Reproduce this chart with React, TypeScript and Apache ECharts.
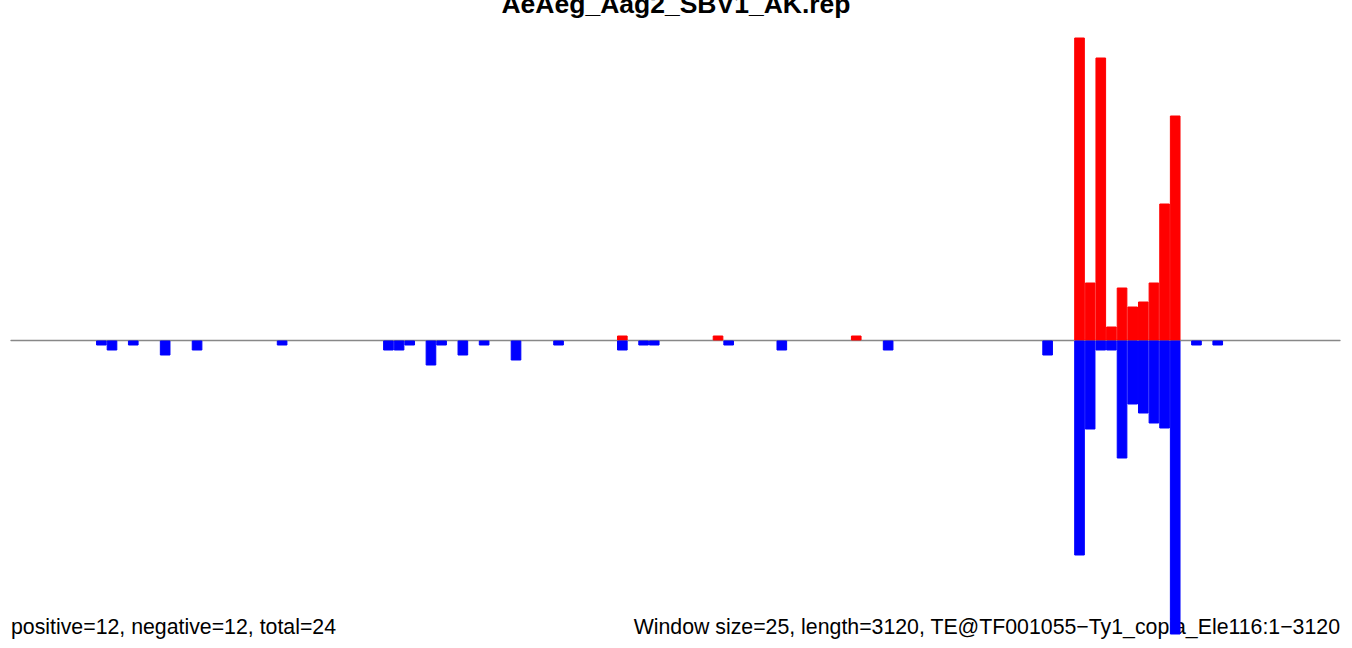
import React, { useEffect, useRef } from "react";
import * as echarts from "echarts";

const TITLE = "AeAeg_Aag2_SBV1_AK.rep";
const LEFT_NOTE = "positive=12, negative=12, total=24";
const RIGHT_NOTE = "Window size=25, length=3120, TE@TF001055\u2212Ty1_copia_Ele116:1\u22123120";

const BIN_COUNT = 125;
const binLabels = Array.from({ length: BIN_COUNT }, (_, i) => String(i * 25 + 1));

const posBins = [57, 66, 79, 100, 101, 102, 103, 104, 105, 106, 107, 108, 109];
const posValues = [1, 1, 1, 60.6, 11.6, 56.6, 2.8, 10.6, 6.8, 7.8, 11.6, 27.4, 45];

const negBins = [8, 9, 11, 14, 17, 25, 35, 36, 37, 39, 40, 42, 44, 47, 51, 57, 59, 60, 67, 72, 82, 97, 100, 101, 102, 103, 104, 105, 106, 107, 108, 109, 111, 113];
const negValues = [1, 2, 1, 3, 2, 1, 2, 2, 1, 5, 1, 3, 1, 4, 1, 2, 1, 1, 1, 2, 2, 3, 43, 17.8, 2, 2, 23.6, 12.8, 14.6, 16.6, 17.6, 58.8, 1, 1];

function fill(bins: number[], vals: number[], sign: number) {
  const arr: (number | null)[] = new Array(BIN_COUNT).fill(null);
  bins.forEach((b, i) => {
    arr[b] = sign * vals[i];
  });
  return arr;
}

export default function App() {
  const ref = useRef<HTMLDivElement>(null);
  useEffect(() => {
    document.body.style.margin = "0";
    const chart = echarts.init(ref.current!, undefined, { renderer: "svg" });
    chart.setOption({
      animation: false,
      grid: { left: 11, right: 12, top: 0, bottom: 0 },
      xAxis: {
        type: "category",
        data: binLabels,
        boundaryGap: true,
        axisLine: { show: true, onZero: true, lineStyle: { color: "#888888", width: 1.3 } },
        axisTick: { show: false },
        axisLabel: { show: false },
        splitLine: { show: false },
      },
      yAxis: {
        type: "value",
        min: -61.5,
        max: 68.1,
        show: false,
        splitLine: { show: false },
      },
      series: [
        {
          type: "bar",
          data: fill(posBins, posValues, 1),
          barWidth: "100%",
          barGap: "-100%",
          itemStyle: { color: "#ff0000", borderColor: "#ff0000", borderWidth: 1 },
        },
        {
          type: "bar",
          data: fill(negBins, negValues, -1),
          barWidth: "100%",
          barGap: "-100%",
          itemStyle: { color: "#0000ff", borderColor: "#0000ff", borderWidth: 1 },
        },
      ],
      graphic: [
        {
          type: "text",
          x: 676,
          y: 4,
          style: {
            text: TITLE,
            fontFamily: "Liberation Sans",
            fontWeight: "bold",
            fontSize: 26.5,
            fill: "#000",
            align: "center",
            verticalAlign: "middle",
          },
        },
        {
          type: "text",
          x: 11,
          y: 627,
          z: 10,
          style: {
            text: LEFT_NOTE,
            fontFamily: "Liberation Sans",
            fontSize: 21.3,
            fill: "#000",
            align: "left",
            verticalAlign: "middle",
          },
        },
        {
          type: "text",
          x: 1340,
          y: 627,
          z: -1,
          style: {
            text: RIGHT_NOTE,
            fontFamily: "Liberation Sans",
            fontSize: 21.3,
            fill: "#000",
            align: "right",
            verticalAlign: "middle",
          },
        },
      ],
    });
    return () => chart.dispose();
  }, []);
  return <div ref={ref} style={{ width: 1352, height: 648 }} />;
}
